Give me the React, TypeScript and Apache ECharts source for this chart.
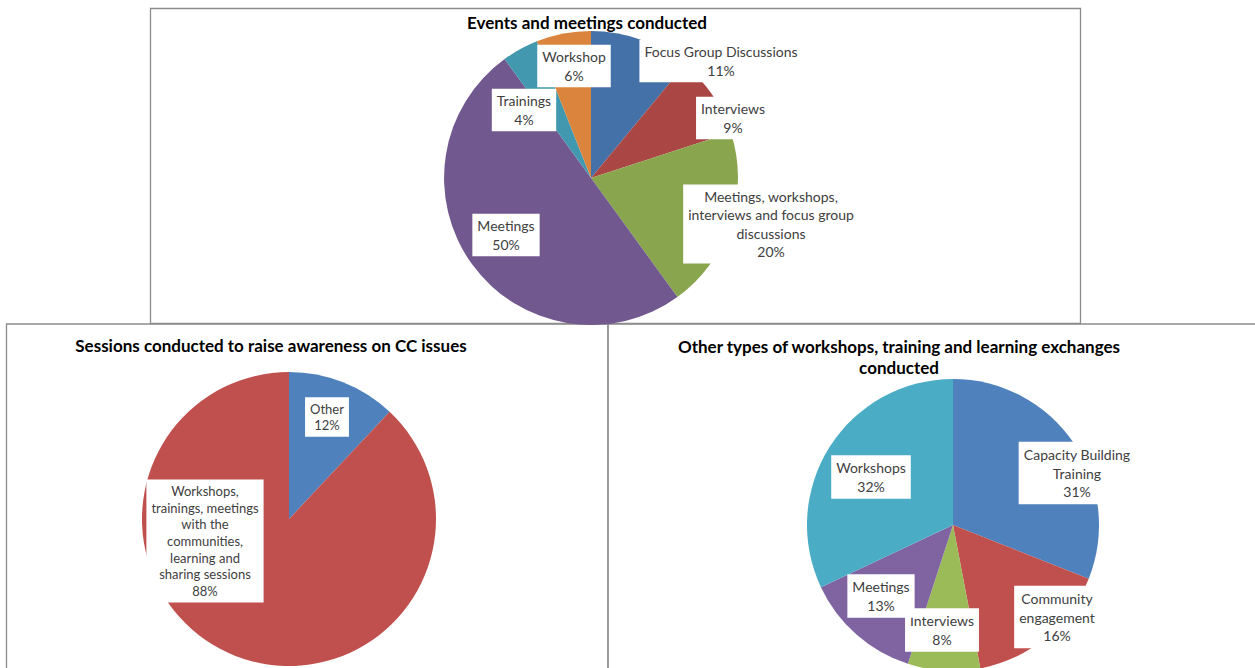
import React, { useEffect, useRef } from "react";
import * as echarts from "echarts";

// ---- Data ----
const topTitle = "Events and meetings conducted";
const topNames = [
  "Focus Group Discussions",
  "Interviews",
  "Meetings, workshops,\ninterviews and focus group\ndiscussions",
  "Meetings",
  "Trainings",
  "Workshop",
];
const topValues = [11, 9, 20, 50, 4, 6];
const topColors = ["#4471A8", "#AA4643", "#89A54E", "#71588F", "#4198AF", "#DB843D"];

const leftTitle = "Sessions conducted to raise awareness on CC issues";
const leftNames = [
  "Other",
  "Workshops,\ntrainings, meetings\nwith the\ncommunities,\nlearning and\nsharing sessions",
];
const leftValues = [12, 88];
const leftColors = ["#4F81BD", "#C0504D"];

const rightTitle = "Other types of workshops, training and learning exchanges\nconducted";
const rightNames = [
  "Capacity Building\nTraining",
  "Community\nengagement",
  "Interviews",
  "Meetings",
  "Workshops",
];
const rightValues = [31, 16, 8, 13, 32];
const rightColors = ["#4F81BD", "#C0504D", "#9BBB59", "#8064A2", "#4BACC6"];

// ---- Layout (label centers in pixels) ----
const topLabelPos = [[721, 61], [733, 118], [771, 224], [506, 235], [524, 110], [574, 66]];
const leftLabelPos = [[327, 417], [205, 541]];
const rightLabelPos = [[1077, 473], [1057, 617], [942, 630], [881, 596], [871, 477]];

const FONT = "Lato, 'Open Sans', sans-serif";

function makeSeries(
  names: string[],
  values: number[],
  colors: string[],
  center: [number, number],
  radius: number,
  labelPos: number[][],
  fontSize: number,
  lineHeight: number
) {
  return {
    type: "pie",
    center,
    radius,
    startAngle: 90,
    clockwise: true,
    percentPrecision: 0,
    emphasis: { disabled: true },
    labelLine: { show: false },
    itemStyle: { borderWidth: 0 },
    label: {
      show: true,
      position: "inside",
      formatter: "{b}\n{d}%",
      color: "#404040",
      fontFamily: FONT,
      fontSize,
      lineHeight,
      align: "center",
      backgroundColor: "#ffffff",
      padding: [3, 5],
    },
    labelLayout: (p: any) => {
      const pos = labelPos[p.dataIndex];
      return { x: pos[0], y: pos[1], align: "center", verticalAlign: "middle" };
    },
    data: names.map((n, i) => ({ name: n, value: values[i], itemStyle: { color: colors[i] } })),
  };
}

export default function App() {
  const ref = useRef<HTMLDivElement>(null);
  useEffect(() => {
    if (!ref.current) return;
    const chart = echarts.init(ref.current, null, { renderer: "svg" });
    const border = { stroke: "#8c8c8c", lineWidth: 1.3, fill: "none" };
    const titleStyle = (text: string, x: number, y: number) => ({
      type: "text",
      z: 10,
      style: {
        text,
        x,
        y,
        textAlign: "center",
        textVerticalAlign: "middle",
        fill: "#000",
        fontFamily: FONT,
        fontWeight: "bold",
        fontSize: 17,
        lineHeight: 21,
      },
    });
    chart.setOption({
      animation: false,
      backgroundColor: "#ffffff",
      graphic: [
        { type: "rect", z: 0, shape: { x: 6.5, y: 324, width: 601.5, height: 360 }, style: border },
        { type: "rect", z: 0, shape: { x: 608, y: 324, width: 660, height: 360 }, style: border },
        { type: "rect", z: 0, shape: { x: 150.5, y: 8.5, width: 930, height: 315 }, style: border },
        titleStyle(topTitle, 587, 22),
        titleStyle(leftTitle, 271, 345),
        titleStyle(rightTitle, 899, 357),
      ],
      series: [
        makeSeries(leftNames, leftValues, leftColors, [289, 519], 147, leftLabelPos, 13, 16.7),
        makeSeries(rightNames, rightValues, rightColors, [953, 525], 146, rightLabelPos, 14, 18.8),
        makeSeries(topNames, topValues, topColors, [591, 178], 147, topLabelPos, 14, 18.3),
      ],
    });
    return () => chart.dispose();
  }, []);
  return (
    <div
      ref={ref}
      style={{ position: "absolute", left: 0, top: 0, width: 1255, height: 668 }}
    />
  );
}
